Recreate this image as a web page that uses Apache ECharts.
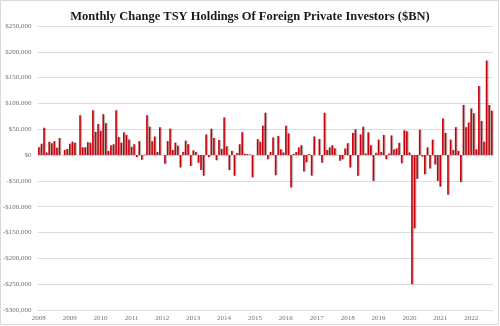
<!DOCTYPE html>
<html>
<head>
<meta charset="utf-8">
<script src="https://cdn.jsdelivr.net/npm/echarts@6/dist/echarts.min.js"></script>
<style>
html,body{margin:0;padding:0;background:#fff;}
#c{width:500px;height:326px;}
</style>
</head>
<body>
<div id="c"></div>
<script>
// Monthly values, Jan 2008 onward
const values = [
 15000,22000,53000,5000,26000,23000,27000,14000,33000,0,10000,12000,
 22000,26000,24000,0,77000,15000,15000,25000,24000,87000,45000,60000,
 47000,79000,62000,8000,19000,21000,87000,35000,24000,44000,39000,30000,
 16000,21000,-4000,27000,-9000,1000,77000,55000,27000,36000,6000,54000,
 0,-17000,27000,51000,10000,24000,18000,-24000,6000,28000,21000,-21000,
 9000,6000,-15000,-29000,-40000,40000,-4000,51000,33000,-10000,29000,12000,
 73000,17000,-29000,8000,-40000,4000,21000,44000,2500,2000,1000,-43000,
 0,31000,26000,57000,82000,-8000,6000,34000,-39000,37000,11000,5000,
 57000,42000,-63000,2500,6000,15000,19000,-32000,-14000,2000,-40000,36000,
 0,31000,-15000,82000,10000,15000,19000,13000,500,-11000,-8000,13000,
 23000,-24000,43000,50000,-40000,40000,55000,3000,44000,19000,-50000,4500,
 30000,6000,39000,-8000,3000,38000,11000,13000,24000,-16000,48000,46000,
 5000,-250000,-142000,-46000,49000,-3000,-37000,15000,-26000,30000,-18000,-50000,
 -61000,71000,43000,-77000,30000,10000,54000,8000,-52000,97000,54000,63000,
 90000,81000,11000,134000,66000,26000,183000,97000,86000
];
const yearLabels = ['2008','2009','2010','2011','2012','2013','2014','2015','2016','2017','2018','2019','2020','2021','2022'];
const categories = values.map((v, i) => (i % 12 === 0 ? yearLabels[i / 12] : ''));

const chart = echarts.init(document.getElementById('c'), null, {renderer: 'canvas'});
function fmt(v) {
  if (v === 0) return '$0';
  const s = Math.abs(v).toLocaleString('en-US');
  return (v < 0 ? '-$' : '$') + s;
}
chart.setOption({
  animation: false,
  graphic: [{
    type: 'rect',
    shape: {x: 0.5, y: 0.5, width: 498, height: 324},
    style: {fill: null, stroke: '#d9d9d9', lineWidth: 1},
    silent: true, z: -10
  }],
  title: {
    text: 'Monthly Change TSY Holdings Of Foreign Private Investors ($BN)',
    left: 'center',
    top: 5,
    textStyle: {fontFamily: 'Liberation Serif', fontWeight: 'bold', fontSize: 12.5, color: '#1a1a1a'}
  },
  grid: {left: 36, right: 7, top: 26, bottom: 16, containLabel: false},
  xAxis: {
    type: 'category',
    data: categories,
    boundaryGap: true,
    axisLine: {show: false, onZero: false},
    axisTick: {show: false},
    axisLabel: {
      interval: (i) => i % 12 === 0,
      fontFamily: 'Liberation Serif', fontSize: 7, color: '#737373', margin: 5
    },
    splitLine: {show: false}
  },
  yAxis: {
    type: 'value',
    min: -300000, max: 250000, interval: 50000,
    axisLine: {show: false},
    axisTick: {show: false},
    axisLabel: {formatter: fmt, fontFamily: 'Liberation Serif', fontSize: 7, color: '#737373', margin: 6},
    splitLine: {lineStyle: {color: '#dcdcdc', width: 1}}
  },
  series: [{
    type: 'bar',
    data: values,
    barWidth: '62%',
    itemStyle: {
      color: '#c8000a',
      shadowColor: 'rgba(0,0,0,0.35)',
      shadowOffsetX: 1,
      shadowOffsetY: 0,
      shadowBlur: 1
    }
  }]
});
</script>
</body>
</html>
